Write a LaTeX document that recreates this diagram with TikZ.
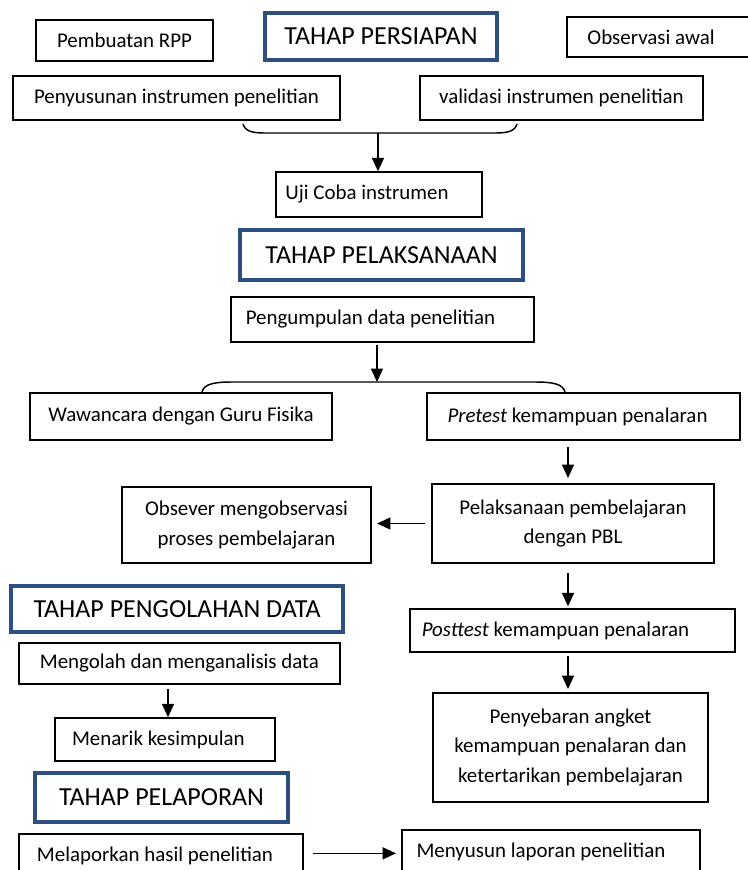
\documentclass[tikz,border=0pt]{standalone}
\usepackage{fontspec}
\setmainfont{Carlito}
\usetikzlibrary{arrows.meta}
\definecolor{hblue}{HTML}{2D4F80}
\begin{document}
\begin{tikzpicture}[x=0.75pt,y=-0.75pt,
  sz/.style 2 args={minimum width=#1*0.75pt,minimum height=#2*0.75pt},
  box/.style={draw=black,line width=1.1pt,inner sep=0pt,align=center,font=\fontsize{15.7}{22}\selectfont},
  head/.style={draw=hblue,line width=3.6pt,inner sep=0pt,font=\fontsize{19.5}{22}\selectfont},
  arr/.style={line width=1.1pt,-{Triangle[length=10pt,width=9pt]}},
  bracel/.style={line width=1.1pt}]
\useasboundingbox (0,0) rectangle (747,870);
% TAHAP PERSIAPAN
\node[box,sz={177}{41}] (rpp) at (124.5,40.5) {Pembuatan RPP};
\node[head,sz={232}{47}] (persiapan) at (381,36.5) {TAHAP PERSIAPAN};
\node[box,sz={200}{40}] (obs) at (667,37) {Observasi awal\hspace*{24pt}};
\node[box,sz={327}{44}] (susun) at (176.5,98) {Penyusunan instrumen penelitian};
\node[box,sz={283}{44}] (valid) at (561.5,98) {validasi instrumen penelitian};
\draw[bracel] (243,124) .. controls (245,131) and (252,133) .. (264,133) -- (496,133) .. controls (508,133) and (515,131) .. (517,124);
\coordinate (b1) at (378,133);
\node[box,sz={206}{45}] (uji) at (379,194.5) {Uji Coba instrumen\hspace*{18pt}};
\draw[arr] (b1) -- (b1 |- uji.north);
% TAHAP PELAKSANAAN
\node[head,sz={283}{50}] (pelaks) at (381.5,255) {TAHAP PELAKSANAAN};
\node[box,sz={303}{45}] (kumpul) at (382.5,319.5) {Pengumpulan data penelitian\hspace*{18pt}};
\coordinate (b2) at (377,382);
\draw[arr,shorten <=2pt] (b2 |- kumpul.south) -- (b2);
\draw[bracel] (202,392) .. controls (204,384) and (214,382) .. (232,382) -- (535,382) .. controls (553,382) and (563,384) .. (565,392);
\node[box,sz={302}{47}] (wawan) at (181,416.5) {Wawancara dengan Guru Fisika};
\node[box,sz={313}{47}] (pre) at (583.5,416.5) {\textit{Pretest} kemampuan penalaran\hspace*{9pt}};
\node[box,sz={282}{79}] (pbl) at (573,523.5) {Pelaksanaan pembelajaran\\dengan PBL};
\node[box,sz={249}{76}] (obsever) at (246.5,525) {Obsever mengobservasi\\proses pembelajaran};
\coordinate (rc) at (568,0);
\draw[arr,shorten <=5pt,shorten >=4pt] (pre.south -| rc) -- (pbl.north -| rc);
\draw[arr,shorten <=5pt,shorten >=4pt] (pbl.west) -- (obsever.east |- pbl.west);
\node[box,sz={325}{43}] (post) at (572.5,630.5) {\textit{Posttest} kemampuan penalaran\hspace*{25.5pt}};
\draw[arr,shorten <=7pt,shorten >=1.5pt] (pbl.south -| rc) -- (post.north -| rc);
\node[box,sz={275}{109}] (sebar) at (570.5,747.5) {Penyebaran angket\\kemampuan penalaran dan\\ketertarikan pembelajaran};
\draw[arr,shorten <=2.5pt,shorten >=2.5pt] (post.south -| rc) -- (sebar.north -| rc);
% TAHAP PENGOLAHAN DATA
\node[head,sz={332}{46}] (olah) at (177,609) {TAHAP PENGOLAHAN DATA};
\node[box,sz={321}{41}] (mengolah) at (179.5,663.5) {Mengolah dan menganalisis data};
\node[box,sz={220}{43}] (tarik) at (165,739.5) {Menarik kesimpulan\hspace*{10pt}};
\coordinate (lc) at (168,0);
\draw[arr,shorten <=3pt] (mengolah.south -| lc) -- (tarik.north -| lc);
% TAHAP PELAPORAN
\node[head,sz={253}{49}] (lapor) at (161.5,797.5) {TAHAP PELAPORAN};
\node[box,sz={284}{44}] (melapor) at (161,856) {Melaporkan hasil penelitian\hspace*{9pt}};
\node[box,sz={298}{44}] (menyusun) at (551,852) {Menyusun laporan penelitian\hspace*{15pt}};
\draw[arr,shorten <=7pt,shorten >=4pt] ([yshift=2pt]melapor.east) -- ([yshift=2pt]menyusun.west |- melapor.east);
\end{tikzpicture}
\end{document}
